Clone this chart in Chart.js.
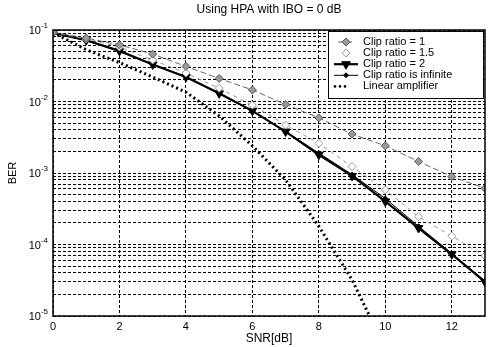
<!DOCTYPE html>
<html>
<head>
<meta charset="utf-8">
<script src="https://cdn.jsdelivr.net/npm/chart.js@4.4.1/dist/chart.umd.min.js"></script>
<style>
  html, body { margin: 0; padding: 0; background: #fff; }
  #wrap { width: 491px; height: 347px; }
</style>
</head>
<body>
<div id="wrap"><canvas id="c" width="491" height="347"></canvas></div>
<script>
// SNR grid (dB) and BER curves for the HPA at IBO = 0 dB
const snrDb = [0, 1, 2, 3, 4, 5, 6, 7, 8, 9, 10, 11, 12, 13];
const berClip1 = [0.093, 0.077, 0.062, 0.046, 0.031, 0.021, 0.0145, 0.0091, 0.0059, 0.0035, 0.0024, 0.00145, 0.00089, 0.00061];
const berClip15 = [0.092, 0.075, 0.058, 0.038, 0.025, 0.0153, 0.0089, 0.0047, 0.0026, 0.00123, 0.00058, 0.000245, 0.000131, 0.000069];
const berClip2 = [0.091, 0.072, 0.051, 0.033, 0.022, 0.013, 0.0074, 0.0038, 0.0018, 0.00091, 0.0004, 0.00017, 0.000073, 0.00003];
const berClipInf = [0.091, 0.071, 0.05, 0.033, 0.022, 0.0128, 0.0073, 0.0038, 0.0019, 0.00095, 0.00044, 0.00018, 0.000075, 0.000031];
const linearSnrDb = [0, 1, 2, 3, 4, 5, 6, 7, 8, 9, 10];
const berLinear = [0.092, 0.053, 0.035, 0.022, 0.0135, 0.0063, 0.0024, 0.0008, 0.00018, 0.000032, 0.0000035];

const seriesNames = ['Clip ratio = 1', 'Clip ratio = 1.5', 'Clip ratio = 2', 'Clip ratio is infinite', 'Linear amplifier'];
const xTicks = [0, 2, 4, 6, 8, 10, 12];
const yTickExponents = [-5, -4, -3, -2, -1];
const yMinorMultipliers = [2, 3, 4, 5, 6, 7, 8, 9];
const chartTitle = 'Using HPA with IBO = 0 dB';
const xTitle = 'SNR[dB]';
const yTitle = 'BER';

const FONT = '"Liberation Sans", Arial, Helvetica, sans-serif';

function pts(xs, ys) { return xs.map((x, i) => ({ x: x, y: ys[i] })); }

const datasets = [
  { label: seriesNames[0], data: pts(snrDb, berClip1), borderColor: '#666', borderWidth: 1, borderDash: [6, 3],
    pointStyle: 'rectRot', pointRadius: 4, pointBackgroundColor: '#999', pointBorderColor: '#555', pointBorderWidth: 1 },
  { label: seriesNames[1], data: pts(snrDb, berClip15), borderColor: '#999', borderWidth: 1, borderDash: [4, 4],
    pointStyle: 'rectRot', pointRadius: 4, pointBackgroundColor: '#fff', pointBorderColor: '#999', pointBorderWidth: 1 },
  { label: seriesNames[2], data: pts(snrDb, berClip2), borderColor: '#000', borderWidth: 2.2,
    pointStyle: 'triangle', pointRotation: 180, pointRadius: 5, pointBackgroundColor: '#000', pointBorderColor: '#000', pointBorderWidth: 1 },
  { label: seriesNames[3], data: pts(snrDb, berClipInf), borderColor: '#000', borderWidth: 1,
    pointStyle: 'rectRot', pointRadius: 2.5, pointBackgroundColor: '#000', pointBorderColor: '#000', pointBorderWidth: 1 },
  { label: seriesNames[4], data: pts(linearSnrDb, berLinear), borderColor: '#000', borderWidth: 3, borderDash: [2, 3],
    pointRadius: 0, clip: 0 }
];

// Frame, title, superscripted decade labels and the boxed legend
const decorations = {
  id: 'decorations',
  afterDatasetsDraw(chart) {
    const { ctx, chartArea: a } = chart;
    const ys = chart.scales.y;
    ctx.save();
    // plot frame
    ctx.strokeStyle = '#000';
    ctx.lineWidth = 1.5;
    ctx.setLineDash([]);
    ctx.strokeRect(a.left, a.top, a.right - a.left, a.bottom - a.top);

    // title
    ctx.fillStyle = '#000';
    ctx.font = '12px ' + FONT;
    ctx.textAlign = 'center';
    ctx.textBaseline = 'middle';
    ctx.fillText(chartTitle, (a.left + a.right) / 2, 10);

    // y decade labels: 10 with raised exponent
    ctx.textAlign = 'left';
    yTickExponents.forEach(e => {
      const y = ys.getPixelForValue(Math.pow(10, e));
      const expTxt = String(e);
      ctx.font = '8px ' + FONT;
      const we = ctx.measureText(expTxt).width;
      ctx.font = '11px ' + FONT;
      const wb = ctx.measureText('10').width;
      const xr = a.left - 5;
      ctx.fillText('10', xr - we - wb, y + 1);
      ctx.font = '8px ' + FONT;
      ctx.fillText(expTxt, xr - we, y - 4);
    });

    // legend box
    const bx = 328, by = 31, bw = 155, bh = 67;
    ctx.fillStyle = '#fff';
    ctx.fillRect(bx, by, bw, bh);
    ctx.lineWidth = 1;
    ctx.strokeStyle = '#000';
    ctx.strokeRect(bx + 0.5, by + 0.5, bw, bh);
    chart.data.datasets.forEach((ds, i) => {
      const y = by + 11 + i * 11.1;
      ctx.save();
      if (i === 4) {
        ctx.fillStyle = '#000';
        [335, 340, 345].forEach(x => { ctx.beginPath(); ctx.arc(x, y, 1.3, 0, Math.PI * 2); ctx.fill(); });
      } else {
        const x0 = i === 0 ? 338 : (i === 1 ? 343 : 334);
        const x1 = i === 0 ? 352 : (i === 1 ? 351 : 358);
        ctx.strokeStyle = ds.borderColor;
        ctx.lineWidth = ds.borderWidth;
        ctx.setLineDash(ds.borderDash || []);
        ctx.beginPath(); ctx.moveTo(x0, y); ctx.lineTo(x1, y); ctx.stroke();
        ctx.setLineDash([]);
        ctx.fillStyle = ds.pointBackgroundColor;
        ctx.strokeStyle = ds.pointBorderColor;
        ctx.lineWidth = ds.pointBorderWidth;
        Chart.helpers.drawPoint(ctx, { pointStyle: ds.pointStyle, radius: ds.pointRadius, rotation: ds.pointRotation || 0, borderWidth: ds.pointBorderWidth }, 346, y);
      }
      ctx.restore();
      ctx.fillStyle = '#000';
      ctx.font = '11px ' + FONT;
      ctx.textAlign = 'left';
      ctx.textBaseline = 'middle';
      ctx.fillText(ds.label, 363, y);
    });
    ctx.restore();
  }
};

new Chart(document.getElementById('c'), {
  type: 'line',
  data: { datasets: datasets },
  options: {
    responsive: false,
    animation: false,
    layout: { padding: { left: 0, right: 3, top: 30, bottom: 0 } },
    elements: { line: { tension: 0 } },
    plugins: { legend: { display: false }, title: { display: false }, tooltip: { enabled: false } },
    scales: {
      x: {
        type: 'linear', min: 0, max: 13,
        afterBuildTicks: s => { s.ticks = xTicks.map(v => ({ value: v })); },
        afterFit: s => { s.height = 31; },
        ticks: { color: '#000', font: { family: FONT, size: 11 }, padding: 4, maxRotation: 0, autoSkip: false },
        grid: { color: '#000', lineWidth: 1, drawTicks: false },
        border: { display: false, dash: [3, 2] },
        title: { display: true, text: xTitle, color: '#000', font: { family: FONT, size: 12 }, padding: { top: 0, bottom: 1 } }
      },
      y: {
        type: 'logarithmic', min: 1e-5, max: 1e-1,
        afterBuildTicks: s => {
          const t = [];
          yTickExponents.forEach(e => {
            t.push({ value: Math.pow(10, e) });
            if (e < -1) yMinorMultipliers.forEach(m => t.push({ value: m * Math.pow(10, e) }));
          });
          s.ticks = t;
        },
        afterFit: s => { s.width = 53; },
        ticks: { callback: () => '', autoSkip: false, padding: 0 },
        grid: { color: '#000', lineWidth: 1, drawTicks: false },
        border: { display: false, dash: [3, 2] },
        title: { display: true, text: yTitle, color: '#000', font: { family: FONT, size: 11 }, padding: { top: 6, bottom: 0 } }
      }
    }
  },
  plugins: [decorations]
});
</script>
</body>
</html>
